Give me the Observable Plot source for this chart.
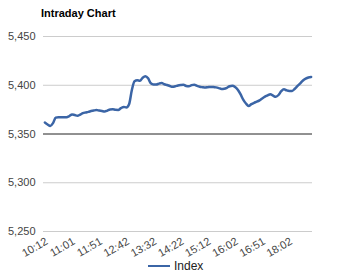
<!DOCTYPE html>
<html>
<head>
<meta charset="utf-8">
<script src="https://cdn.jsdelivr.net/npm/d3@7"></script>
<script src="https://cdn.jsdelivr.net/npm/@observablehq/plot@0.6"></script>
<style>
  html, body { margin: 0; padding: 0; background: #fff; }
  #wrap { position: relative; width: 354px; height: 272px; overflow: hidden; font-family: Arial, "Liberation Sans", sans-serif; }
  #title { position: absolute; left: 41px; top: 7px; font-size: 11px; font-weight: bold; color: #000; }
  #legend { position: absolute; left: 148px; top: 259px; font-size: 12px; color: #222; display: flex; align-items: center; }
  #legend .sw { width: 22px; height: 2px; background: #3b65a6; margin-right: 4px; }
  #chart { position: absolute; left: 0; top: 0; }
</style>
</head>
<body>
<div id="wrap">
  <div id="chart"></div>
  <div id="title">Intraday Chart</div>
  <div id="legend"><span class="sw"></span><span>Index</span></div>
</div>
<script>
const seriesName = "Index";
const values = [
  5361.7, 5359.7, 5358.2, 5361.2, 5366.8, 5367.3, 5367.3, 5367.3, 5367.3, 5368.4,
  5370.1, 5369.4, 5368.7, 5369.9, 5371.4, 5372.1, 5372.7, 5373.5, 5374.1, 5374.5,
  5374.0, 5373.5, 5373.0, 5374.0, 5375.2, 5375.3, 5374.8, 5374.7, 5376.5, 5377.8,
  5377.3, 5380.6, 5394.9, 5404.1, 5405.1, 5404.6, 5407.7, 5409.2, 5407.1, 5402.0,
  5400.8, 5400.8, 5401.7, 5402.2, 5401.0, 5400.2, 5399.2, 5398.4, 5399.0, 5399.8,
  5400.3, 5400.6, 5399.2, 5398.9, 5400.1, 5400.5, 5399.3, 5398.4, 5398.0, 5397.7,
  5398.0, 5398.3, 5398.2, 5397.8, 5397.1, 5396.2, 5396.4, 5397.4, 5399.0, 5399.5,
  5398.3, 5395.4, 5390.8, 5385.2, 5381.3, 5378.8, 5380.6, 5382.0, 5383.1, 5384.5,
  5386.5, 5388.3, 5389.6, 5390.8, 5389.3, 5388.2, 5390.0, 5393.9, 5395.9, 5394.7,
  5394.2, 5394.2, 5396.4, 5399.3, 5402.0, 5404.9, 5406.8, 5408.0, 5408.5
];
const tickIndex = [0, 10, 20, 30, 40, 50, 60, 70, 80, 90];
const tickLabels = ["10:12", "11:01", "11:51", "12:42", "13:32", "14:22", "15:12", "16:02", "16:51", "18:02"];
const yTicks = [5250, 5300, 5350, 5400, 5450];
const baselineValue = [5350];

const data = values.map((v, i) => ({i, v}));
const labelOf = new Map(tickIndex.map((t, k) => [t, tickLabels[k]]));

const chart = Plot.plot({
  width: 354,
  height: 272,
  marginTop: 36,
  marginBottom: 41,
  marginLeft: 43,
  marginRight: 42,
  style: {fontFamily: "Arial, 'Liberation Sans', sans-serif", fontSize: "11px", background: "transparent"},
  x: {domain: [-0.5, values.length - 0.5], axis: null},
  y: {domain: [5250, 5450], axis: null},
  marks: [
    Plot.ruleY(yTicks.filter(t => t !== 5350), {stroke: "#cccccc", strokeWidth: 1}),
    Plot.ruleY(baselineValue, {stroke: "#222", strokeWidth: 1}),
    Plot.text(yTicks, {x: -0.5, y: d => d, text: d => d3.format(",")(d), textAnchor: "end", dx: -8, fill: "#444", fontSize: 11}),
    Plot.text(tickIndex, {x: d => d, y: 5250, text: d => labelOf.get(d), textAnchor: "end", rotate: -30, dx: 2, dy: 9, fill: "#444", fontSize: 11}),
    Plot.line(data, {x: "i", y: "v", stroke: "#3b65a6", strokeWidth: 2.5, curve: "monotone-x"})
  ]
});
document.getElementById("chart").appendChild(chart);
</script>
</body>
</html>
